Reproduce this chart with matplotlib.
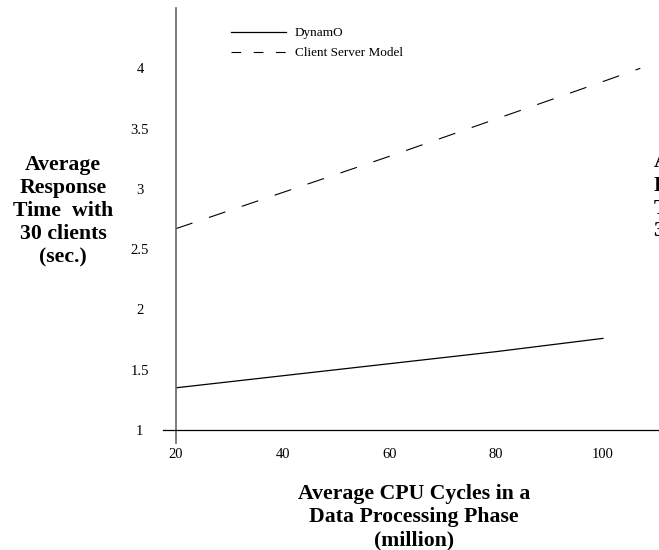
import matplotlib
matplotlib.use("Agg")
import matplotlib.pyplot as plt

plt.rcParams['font.family'] = ['Liberation Serif', 'DejaVu Serif']
plt.rcParams['lines.scale_dashes'] = False

# Data
cpu_cycles = [20, 40, 60, 80, 100]
dynamo = [1.35, 1.45, 1.55, 1.65, 1.76]
cs_cycles = [20, 40, 60, 80, 100, 107]
client_server = [2.67, 2.97, 3.27, 3.58, 3.89, 4.0]
x_ticks = [20, 40, 60, 80, 100]
y_ticks = [1, 1.5, 2, 2.5, 3, 3.5, 4]
y_tick_labels = ["1", "1.5", "2", "2.5", "3", "3.5", "4"]
series_names = ["DynamO", "Client Server Model"]
ylabel_text = "Average\nResponse\nTime  with\n30 clients\n(sec.)"
ylabel_cut = "Average\nResponse\nTime  with\n30 clients"
xlabel_text = "Average CPU Cycles in a\nData Processing Phase\n(million)"

W, H = 659, 550
fig = plt.figure(figsize=(W / 100, H / 100), dpi=100)
ax = fig.add_axes([176 / W, 1 - 430 / H, (W - 176) / W, (430 - 8) / H])

ax.plot(cpu_cycles, dynamo, color='black', lw=0.9, label=series_names[0])
ax.plot(cs_cycles, client_server, color='black', lw=0.8,
        dashes=(12.5, 12.5), label=series_names[1])

ax.set_xlim(20, 110.5)
ax.set_ylim(1, 4.5)

for s in ax.spines.values():
    s.set_visible(False)

# axis lines
ax.plot([0, 0], [-13 / 422, 1], transform=ax.transAxes, clip_on=False,
        color='#666666', lw=1.2)
ax.plot([-13 / 483, 1], [0, 0], transform=ax.transAxes, clip_on=False,
        color='black', lw=0.9)

ax.set_xticks(x_ticks)
ax.set_xticklabels([str(v) for v in x_ticks])
ax.set_yticks(y_ticks)
ax.set_yticklabels(y_tick_labels)
ax.tick_params(axis='both', length=0, labelsize=10.5)
ax.tick_params(axis='x', pad=13)
ax.tick_params(axis='y', pad=26)
for lab in ax.get_yticklabels():
    lab.set_horizontalalignment('center')

leg = ax.legend(loc='upper left', bbox_to_anchor=(231 / W, 1 - 27 / H),
                bbox_transform=fig.transFigure, frameon=False, fontsize=9.5,
                handlelength=4.2, handletextpad=0.65, labelspacing=0.6,
                borderpad=0, borderaxespad=0)
leg.get_lines()[1].set_dashes((7, 9))

fig.text(63 / W, 1 - 211 / H, ylabel_text, ha='center', va='center',
         fontsize=15.7, fontweight='bold', linespacing=1.2,
         multialignment='center')
# partial duplicate label cut at the right edge (as in the reference)
fig.text(654 / W, 1 - 197 / H, ylabel_cut, ha='left', va='center',
         fontsize=15.7, fontweight='bold', linespacing=1.2,
         multialignment='left')

fig.text(414 / W, 1 - 517 / H, xlabel_text, ha='center', va='center',
         fontsize=15.7, fontweight='bold', linespacing=1.2,
         multialignment='center')

fig.savefig('out.png', dpi=100)
